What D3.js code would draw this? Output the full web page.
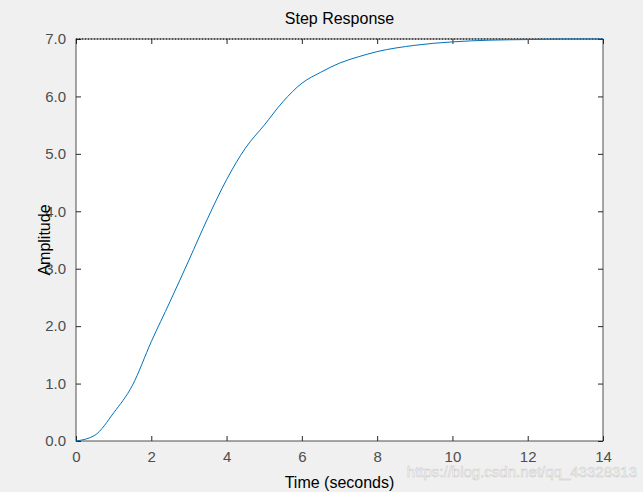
<!DOCTYPE html>
<html>
<head>
<meta charset="utf-8">
<script src="https://d3js.org/d3.v7.min.js"></script>
<style>
  body { margin: 0; background: #f0f0f0; font-family: "Liberation Sans", Arial, sans-serif; }
</style>
</head>
<body>
<div id="box"></div>
<script>
// step response
var times = [0, 0.5, 1, 1.5, 2, 2.5, 3, 3.5, 4, 4.5, 5, 5.5, 6, 6.5, 7, 7.5, 8, 9, 10, 11, 12, 13, 14];
var amps  = [0, 0.1, 0.49, 0.97, 1.73, 2.43, 3.15, 3.88, 4.55, 5.1, 5.5, 5.91, 6.23, 6.42, 6.58, 6.69, 6.78, 6.89, 6.95, 6.98, 6.99, 7.0, 7.0];
var xTicks = [0, 2, 4, 6, 8, 10, 12, 14];
var yTicks = [0, 1, 2, 3, 4, 5, 6, 7];
var finalValue = 7;

var width = 643, height = 492;
var pLeft = 76, pRight = 603, pTop = 39, pBottom = 441;

var svg = d3.select("#box").append("svg").attr("width", width).attr("height", height);
var x = d3.scaleLinear().domain([0, 14]).range([pLeft, pRight]);
var y = d3.scaleLinear().domain([0, 7]).range([pBottom, pTop]);

svg.append("rect").attr("x", pLeft).attr("y", pTop).attr("width", pRight - pLeft).attr("height", pBottom - pTop)
  .attr("fill", "#fff");

var axisColor = "#262626";
function styleAxis(g) {
  g.select(".domain").remove();
  g.selectAll("line").attr("stroke", axisColor);
  g.selectAll("text").attr("fill", "#4d4d4d").style("font-size", "15px").style("font-family", "Liberation Sans, Arial, sans-serif");
}
svg.append("g").attr("transform", "translate(0," + pBottom + ")")
  .call(d3.axisBottom(x).tickValues(xTicks).tickSizeInner(-5).tickSizeOuter(0).tickPadding(10)).call(styleAxis);
svg.append("g").attr("transform", "translate(" + pLeft + ",0)")
  .call(d3.axisLeft(y).tickValues(yTicks).tickSizeInner(-5).tickSizeOuter(0).tickPadding(10)).call(styleAxis);
svg.append("g").attr("transform", "translate(" + pRight + ",0)")
  .call(d3.axisRight(y).tickValues(yTicks).tickSizeInner(-5).tickSizeOuter(0).tickFormat("")).call(styleAxis);
svg.append("g").attr("transform", "translate(0," + pTop + ")")
  .call(d3.axisTop(x).tickValues(xTicks).tickSizeInner(-5).tickSizeOuter(0).tickFormat("")).call(styleAxis);

svg.append("rect").attr("x", pLeft).attr("y", pTop).attr("width", pRight - pLeft).attr("height", pBottom - pTop)
  .attr("fill", "none").attr("stroke", axisColor).attr("stroke-width", 0.8);

// steady-state line
svg.append("line").attr("x1", pLeft).attr("x2", pRight).attr("y1", y(finalValue)).attr("y2", y(finalValue))
  .attr("stroke", "#000").attr("stroke-width", 1).attr("stroke-dasharray", "1,2");

var pts = times.map(function(t, i) { return [t, amps[i]]; });
svg.append("path").datum(pts)
  .attr("d", d3.line().x(function(d) { return x(d[0]); }).y(function(d) { return y(d[1]); }).curve(d3.curveMonotoneX))
  .attr("fill", "none").attr("stroke", "#0072bd").attr("stroke-width", 1);

svg.append("text").attr("x", (pLeft + pRight) / 2).attr("y", 24).attr("text-anchor", "middle")
  .style("font-size", "16px").attr("fill", "#000").text("Step Response");
svg.append("text").attr("x", (pLeft + pRight) / 2).attr("y", 488).attr("text-anchor", "middle")
  .style("font-size", "16px").attr("fill", "#000").text("Time (seconds)");
svg.append("text").attr("transform", "translate(50," + ((pTop + pBottom) / 2) + ") rotate(-90)").attr("text-anchor", "middle")
  .style("font-size", "16px").attr("fill", "#000").text("Amplitude");

svg.append("text").attr("x", 637).attr("y", 477).attr("text-anchor", "end")
  .style("font-size", "15px").attr("fill", "#fff").attr("fill-opacity", 0.75)
  .attr("stroke", "#c8c8c8").attr("stroke-width", 0.5)
  .text("https://blog.csdn.net/qq_43328313");
</script>
</body>
</html>
